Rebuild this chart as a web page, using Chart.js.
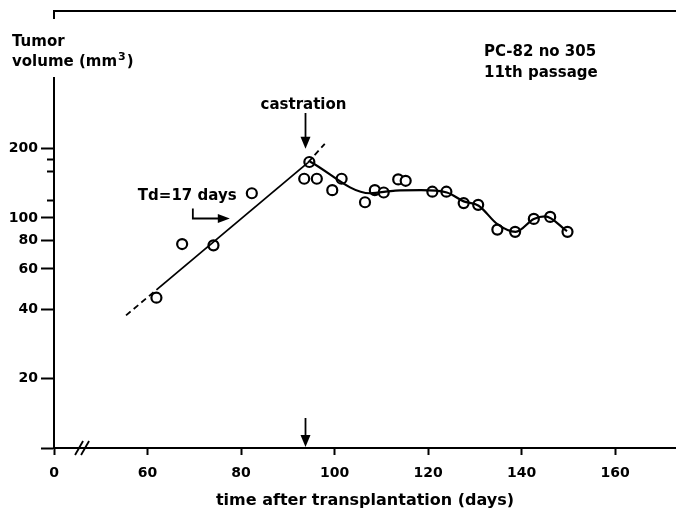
<!DOCTYPE html>
<html>
<head>
<meta charset="utf-8">
<script src="https://cdn.jsdelivr.net/npm/chart.js@4.4.1/dist/chart.umd.min.js"></script>
<style>
  html, body { margin: 0; padding: 0; background: #fff; }
  canvas { display: block; }
</style>
</head>
<body>
<canvas id="tumor" width="676" height="516"></canvas>
<script>
// measured tumor volumes (mm3) against days after transplantation
const days = [61.9, 67.4, 74.1, 82.3, 93.5, 94.6, 96.2, 99.5, 101.5, 106.5, 108.6, 110.5,
  113.6, 115.2, 120.9, 123.9, 127.6, 130.7, 134.8, 138.6, 142.6, 146.1, 149.8];
const volumes = [45, 77, 76, 128, 148, 175, 148, 132, 148, 117, 132, 129,
  147, 145, 130, 130, 116, 114, 89, 87, 99, 101, 87];

// exponential growth line (Td = 17 days), dashed at both ends
const growthDays = [55.4, 61.9, 94.3, 97.9];
const growthVolumes = [37.7, 48.7, 174, 210];

// smoothed course after castration
const trendDays = [94.7, 107.6, 113, 118.5, 124, 127.6, 130.8, 134.8, 138.7, 142.6, 145, 149.7];
const trendVolumes = [176, 128, 131.5, 132, 129, 118, 113, 94, 87, 99, 101.5, 87.6];

// x axis is broken: the first tick stands for day 0
const xTicks = [40, 60, 80, 100, 120, 140, 160];
const xTickLabels = ["0", "60", "80", "100", "120", "140", "160"];
const yTicks = [10, 20, 40, 60, 80, 100, 200];
const yLabelled = [20, 40, 60, 80, 100, 200];
const yMinorTicks = [120, 160, 180];

const castrationDay = 93.7;
const tdArrowTip = { x: 77.6, y: 100 };

const FONT = "'DejaVu Sans', sans-serif";
const toPoints = (xs, ys) => xs.map((x, i) => ({ x: x, y: ys[i] }));

const arrowHead = (ctx, x, y, dir, len, half) => {
  ctx.beginPath();
  if (dir === "down") {
    ctx.moveTo(x, y);
    ctx.lineTo(x - half, y - len);
    ctx.lineTo(x + half, y - len);
  } else {
    ctx.moveTo(x, y);
    ctx.lineTo(x - len, y - half);
    ctx.lineTo(x - len, y + half);
  }
  ctx.closePath();
  ctx.fill();
};

const extras = {
  id: "extras",
  afterDraw(chart) {
    const { ctx, chartArea, scales } = chart;
    const x = scales.x;
    const y = scales.y;
    ctx.save();
    ctx.strokeStyle = "#000";
    ctx.fillStyle = "#000";

    // short minor ticks on the volume axis
    ctx.lineWidth = 2;
    yMinorTicks.forEach((v) => {
      const py = Math.round(y.getPixelForValue(v)) + 0.5;
      ctx.beginPath();
      ctx.moveTo(chartArea.left - 7, py);
      ctx.lineTo(chartArea.left, py);
      ctx.stroke();
    });

    // axis break marks
    ctx.lineWidth = 1.8;
    const bx = x.getPixelForValue(46);
    const by = chartArea.bottom;
    [-3, 3].forEach((d) => {
      ctx.beginPath();
      ctx.moveTo(bx + d - 4, by + 7);
      ctx.lineTo(bx + d + 4, by - 7);
      ctx.stroke();
    });

    // y axis title sits in a gap of the axis line
    ctx.fillStyle = "#fff";
    ctx.fillRect(chartArea.left - 4, 19, 8, 58);
    ctx.fillStyle = "#000";
    ctx.font = "bold 15px " + FONT;
    ctx.textBaseline = "middle";
    ctx.textAlign = "left";
    ctx.fillText("Tumor", 12, 42);
    const head = "volume (mm";
    ctx.fillText(head, 12, 62);
    let tx = 12 + ctx.measureText(head).width;
    ctx.font = "bold 11px " + FONT;
    ctx.fillText("3", tx + 1, 57);
    tx += ctx.measureText("3").width + 2;
    ctx.font = "bold 15px " + FONT;
    ctx.fillText(")", tx, 62);

    // tumor line and passage
    ctx.fillText("PC-82 no 305", 484, 52);
    ctx.fillText("11th passage", 484, 73);

    // castration arrows
    const cx = Math.round(x.getPixelForValue(castrationDay)) + 0.5;
    const topTip = y.getPixelForValue(200);
    ctx.textAlign = "center";
    ctx.fillText("castration", cx - 2, 105);
    ctx.lineWidth = 1.8;
    ctx.beginPath();
    ctx.moveTo(cx, 113);
    ctx.lineTo(cx, topTip - 8);
    ctx.stroke();
    arrowHead(ctx, cx, topTip, "down", 12, 5);

    ctx.beginPath();
    ctx.moveTo(cx, chartArea.bottom - 30);
    ctx.lineTo(cx, chartArea.bottom - 8);
    ctx.stroke();
    arrowHead(ctx, cx, chartArea.bottom - 1, "down", 12, 5);

    // doubling time label with bent arrow
    const ax = x.getPixelForValue(tdArrowTip.x);
    const ay = Math.round(y.getPixelForValue(tdArrowTip.y)) + 0.5;
    ctx.textAlign = "left";
    ctx.fillText("Td=17 days", ax - 92, ay - 22);
    ctx.beginPath();
    ctx.moveTo(ax - 37, ay - 10);
    ctx.lineTo(ax - 37, ay);
    ctx.lineTo(ax - 10, ay);
    ctx.stroke();
    arrowHead(ctx, ax, ay, "right", 12, 4.5);

    ctx.restore();
  },
};

const tickFont = { family: FONT, weight: "bold", size: 14 };

// the time axis runs out to the right edge of the canvas
const noSidePadding = (s) => {
  s.paddingLeft = 0;
  s.paddingRight = 0;
};

new Chart(document.getElementById("tumor"), {
  type: "scatter",
  data: {
    datasets: [
      {
        label: "growth",
        type: "line",
        data: toPoints(growthDays, growthVolumes),
        borderColor: "#000",
        borderWidth: 1.8,
        pointRadius: 0,
        tension: 0,
        fill: false,
        segment: {
          borderDash: (c) => (c.p0DataIndex === 1 ? [] : [6, 4]),
        },
      },
      {
        label: "after castration",
        type: "line",
        data: toPoints(trendDays, trendVolumes),
        borderColor: "#000",
        borderWidth: 2.2,
        pointRadius: 0,
        cubicInterpolationMode: "monotone",
        fill: false,
      },
      {
        label: "measured",
        data: toPoints(days, volumes),
        pointStyle: "circle",
        pointRadius: 5,
        pointBorderWidth: 2.2,
        pointBorderColor: "#000",
        pointBackgroundColor: "#fff",
      },
    ],
  },
  options: {
    responsive: false,
    animation: false,
    devicePixelRatio: 1,
    layout: { autoPadding: false, padding: { left: 0, right: 0, top: 8, bottom: 0 } },
    plugins: {
      legend: { display: false },
      tooltip: { enabled: false },
      title: { display: false },
    },
    scales: {
      x: {
        type: "linear",
        position: "bottom",
        min: 40,
        max: 173,
        afterBuildTicks: (s) => {
          s.ticks = xTicks.map((v) => ({ value: v }));
        },
        afterFit: (s) => {
          s.height = 68;
          noSidePadding(s);
        },
        ticks: {
          autoSkip: false,
          maxRotation: 0,
          color: "#000",
          font: tickFont,
          padding: 10,
          callback: (v) => xTickLabels[xTicks.indexOf(v)],
        },
        grid: {
          drawOnChartArea: false,
          tickLength: 7,
          tickWidth: 2,
          tickColor: "#000",
        },
        border: { color: "#000", width: 2 },
        title: {
          display: true,
          text: "time after transplantation (days)",
          color: "#000",
          font: { family: FONT, weight: "bold", size: 16 },
          padding: { top: 0, bottom: 6 },
        },
      },
      xTop: {
        type: "linear",
        position: "top",
        min: 40,
        max: 173,
        afterFit: (s) => {
          s.height = 0;
          noSidePadding(s);
        },
        ticks: { display: false },
        grid: { display: false, drawTicks: false },
        border: { display: true, color: "#000", width: 2 },
      },
      y: {
        type: "logarithmic",
        min: 10,
        max: 790,
        afterBuildTicks: (s) => {
          s.ticks = yTicks.map((v) => ({ value: v }));
        },
        afterFit: (s) => {
          s.width = 54;
        },
        ticks: {
          autoSkip: false,
          color: "#000",
          font: tickFont,
          padding: 3,
          callback: (v) => (yLabelled.includes(v) ? String(v) : ""),
        },
        grid: {
          drawOnChartArea: false,
          tickLength: 13,
          tickWidth: 2,
          tickColor: "#000",
        },
        border: { color: "#000", width: 2 },
      },
    },
  },
  plugins: [extras],
});
</script>
</body>
</html>
